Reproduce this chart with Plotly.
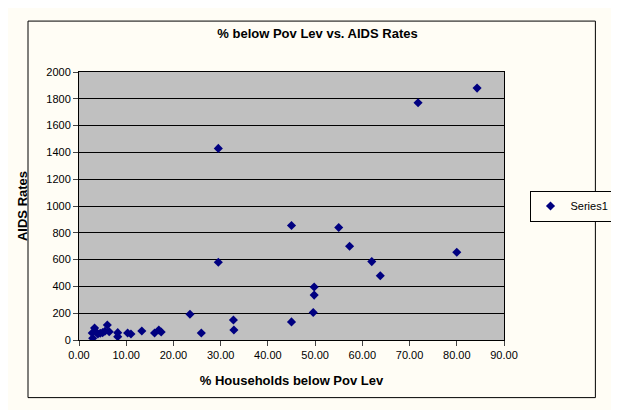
import plotly.graph_objects as go

pov = [2.8, 2.9, 3.3, 3.6, 4.0, 4.5, 5.0, 5.5, 6.0, 6.4, 8.2, 8.2, 10.3, 11.0, 13.3, 16.0, 16.9, 17.4,
       23.5, 25.9, 29.5, 29.5, 32.7, 32.8, 45.0, 45.0, 49.6, 49.8, 49.8, 55.0, 57.3, 62.0, 63.8,
       71.8, 80.0, 84.3]
aids = [52, 13, 90, 60, 45, 50, 55, 65, 112, 62, 55, 25, 52, 45, 67, 52, 75, 60,
        192, 52, 1430, 580, 149, 75, 855, 135, 205, 335, 395, 840, 700, 585, 480,
        1770, 655, 1880]

fig = go.Figure(go.Scatter(
    x=pov, y=aids, mode="markers", name="Series1",
    marker=dict(symbol="diamond", size=7, color="#000080")))

fig.update_layout(
    width=619, height=410,
    paper_bgcolor="#fffdf5", plot_bgcolor="#c0c0c0",
    font=dict(family="Arial", size=11, color="black"),
    title=dict(text="<b>% below Pov Lev vs. AIDS Rates</b>", x=0.5, y=0.95,
               font=dict(size=13)),
    margin=dict(l=71, r=96, t=64, b=78),
    showlegend=True,
    legend=dict(x=1.06, y=0.5, yanchor="middle", bordercolor="black", borderwidth=1,
                bgcolor="#fffdf5"),
    shapes=[dict(type="rect", xref="paper", yref="paper", x0=-0.12, x1=1.215,
                 y0=-0.215, y1=1.19, line=dict(color="black", width=1))],
)
fig.update_xaxes(range=[0, 90], dtick=10, tickformat=".2f", showgrid=False,
                 showline=True, linecolor="black", ticks="outside",
                 title=dict(text="<b>% Households below Pov Lev</b>"), mirror=True)
fig.update_yaxes(range=[0, 2000], dtick=200, showgrid=True, gridcolor="black",
                 showline=True, linecolor="black", ticks="outside", zeroline=False,
                 title=dict(text="<b>AIDS Rates</b>"), mirror=True)
fig.write_html("out.html")
